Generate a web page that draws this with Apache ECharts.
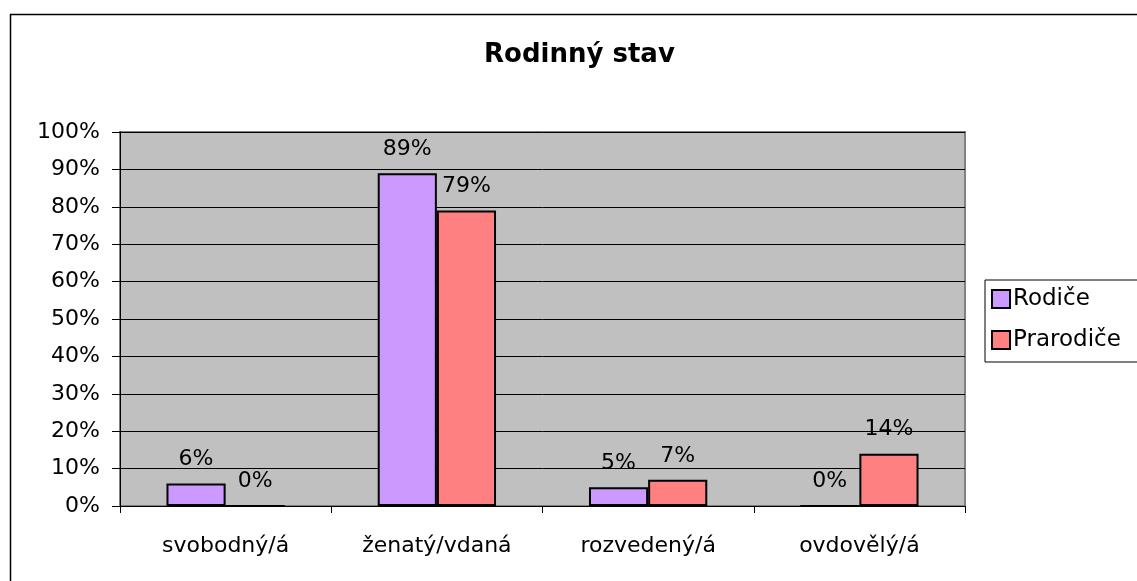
<!DOCTYPE html>
<html>
<head>
<meta charset="utf-8">
<script src="https://cdn.jsdelivr.net/npm/echarts@6/dist/echarts.min.js"></script>
<style>
html,body{margin:0;padding:0;background:#fff;}
#c{width:1137px;height:581px;}
</style>
</head>
<body>
<div id="c"></div>
<script>
const categories = ['svobodný/á', 'ženatý/vdaná', 'rozvedený/á', 'ovdovělý/á'];
const rodice = [6, 89, 5, 0];
const prarodice = [0, 79, 7, 14];
const yTicks = [0, 10, 20, 30, 40, 50, 60, 70, 80, 90, 100];

const FONT = '"DejaVu Sans", Arial, sans-serif';
const chart = echarts.init(document.getElementById('c'), null, {renderer: 'canvas'});
const labelCfg = {
  show: true, position: 'top', distance: 13, formatter: '{c}%',
  color: '#000', fontFamily: FONT, fontSize: 22
};
chart.setOption({
  animation: false,
  backgroundColor: '#fff',
  title: {
    text: 'Rodinný stav', left: 479, top: 37,
    textStyle: {fontFamily: FONT, fontSize: 26, fontWeight: 'bold', color: '#000'}
  },
  graphic: [{
    type: 'rect', left: 8, top: 12, z: -1,
    shape: {width: 1300, height: 800},
    style: {fill: 'none', stroke: '#000', lineWidth: 1.5}
  }],
  legend: {
    orient: 'vertical', left: 985, top: 280,
    padding: [7, 40, 10, 6], itemGap: 17, itemWidth: 18, itemHeight: 18,
    borderColor: '#000', borderWidth: 1, backgroundColor: '#fff',
    icon: 'rect',
    textStyle: {fontFamily: FONT, fontSize: 23, lineHeight: 24, color: '#000', padding: [0,0,0,-2]},
    data: ['Rodiče', 'Prarodiče']
  },
  grid: {
    left: 120, right: 172, top: 132, bottom: 75,
    show: true, backgroundColor: '#C0C0C0', borderColor: '#808080', borderWidth: 2
  },
  xAxis: {
    type: 'category', data: categories,
    axisLine: {lineStyle: {color: '#000', width: 1}},
    axisTick: {show: true, alignWithLabel: false, length: 7, lineStyle: {color: '#000'}},
    axisLabel: {fontFamily: FONT, fontSize: 22, color: '#000', margin: 29}
  },
  yAxis: {
    type: 'value', min: yTicks[0], max: yTicks[yTicks.length - 1], interval: 10,
    axisLine: {show: true, lineStyle: {color: '#000', width: 1}},
    axisTick: {show: true, length: 8, lineStyle: {color: '#000'}},
    axisLabel: {fontFamily: FONT, fontSize: 22, color: '#000', margin: 20, formatter: '{value}%'},
    splitLine: {show: true, lineStyle: {color: '#000', width: 1}}
  },
  series: [
    {
      name: 'Rodiče', type: 'bar', data: rodice, barGap: '0%', barCategoryGap: '44%',
      itemStyle: {color: '#CC99FF', borderColor: '#000', borderWidth: 2},
      label: labelCfg
    },
    {
      name: 'Prarodiče', type: 'bar', data: prarodice,
      itemStyle: {color: '#FF8080', borderColor: '#000', borderWidth: 2},
      label: labelCfg
    }
  ]
});
</script>
</body>
</html>
